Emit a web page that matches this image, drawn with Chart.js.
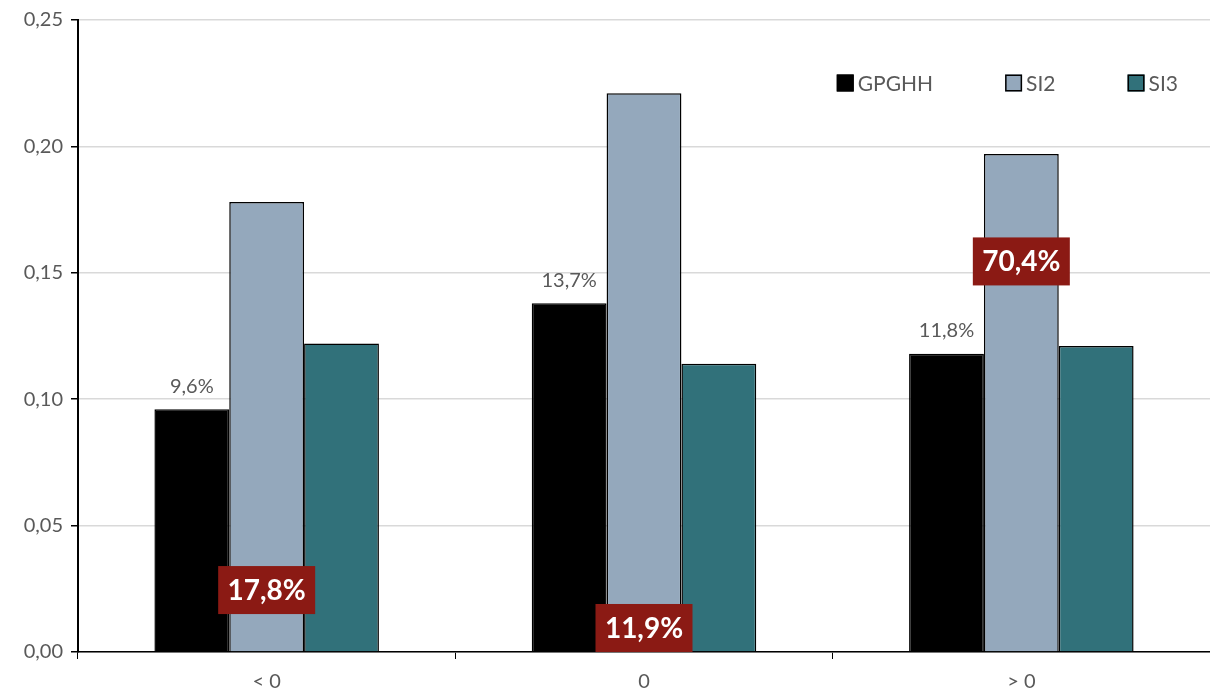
<!DOCTYPE html>
<html>
<head>
<meta charset="utf-8">
<script src="https://cdn.jsdelivr.net/npm/chart.js@4/dist/chart.umd.min.js"></script>
<style>
    html, body { margin: 0; padding: 0; background: #fff; }
    #wrap { width: 1210px; height: 693px; }
</style>
</head>
<body>
<div id="wrap"><canvas id="barChart"></canvas></div>
<script>
const categories = ['< 0', '0', '> 0'];
const seriesNames = ['GPGHH', 'SI2', 'SI3'];
const gpghhValues = [0.096, 0.138, 0.118];
const si2Values = [0.178, 0.221, 0.197];
const si3Values = [0.122, 0.114, 0.121];
const gpghhLabels = ['9,6%', '13,7%', '11,8%'];
const boxLabels = ['17,8%', '11,9%', '70,4%'];
const boxValues = [0.0245, 0.0095, 0.1545];

const FONT = 'Lato, "Open Sans", sans-serif';
const GREY = '#595959';

// small grey labels above the GPGHH bars
const gpghhLabelPlugin = {
    id: 'gpghhLabel',
    afterDatasetsDraw(chart) {
        const ctx = chart.ctx;
        const meta = chart.getDatasetMeta(0);
        ctx.save();
        ctx.font = '20px ' + FONT;
        ctx.fillStyle = GREY;
        ctx.textAlign = 'center';
        ctx.textBaseline = 'bottom';
        meta.data.forEach((bar, i) => {
            ctx.fillText(gpghhLabels[i], bar.x, bar.y - 13);
        });
        ctx.restore();
    }
};

// dark red boxes with white percentages, centred on the SI2 bars
const boxPlugin = {
    id: 'redBoxes',
    afterDatasetsDraw(chart) {
        const ctx = chart.ctx;
        const yScale = chart.scales.y;
        ctx.save();
        ctx.font = 'bold 28px ' + FONT;
        ctx.textAlign = 'center';
        ctx.textBaseline = 'middle';
        boxLabels.forEach((txt, i) => {
            const x = chart.getDatasetMeta(1).data[i].x;
            const y = yScale.getPixelForValue(boxValues[i]);
            const w = 97, h = 48;
            ctx.fillStyle = '#8B1A14';
            ctx.fillRect(x - w / 2, y - h / 2, w, h);
            ctx.fillStyle = '#fff';
            ctx.fillText(txt, x, y + 1);
        });
        ctx.restore();
    }
};

// legend drawn inside the plot, top right
const innerLegendPlugin = {
    id: 'innerLegend',
    afterDraw(chart) {
        const ctx = chart.ctx;
        const area = chart.chartArea;
        const gap = 72, box = 17;
        ctx.save();
        ctx.font = '21px ' + FONT;
        ctx.textBaseline = 'middle';
        const widths = chart.data.datasets.map(ds => box + 4 + ctx.measureText(ds.label).width);
        const total = widths.reduce((a, b) => a + b, 0) + gap * (widths.length - 1);
        let x = area.right - 32 - total;
        const y = 83;
        chart.data.datasets.forEach((ds, i) => {
            ctx.fillStyle = ds.backgroundColor;
            ctx.strokeStyle = '#000';
            ctx.lineWidth = 1.5;
            ctx.fillRect(x, y - box / 2, box, box);
            ctx.strokeRect(x + 0.75, y - box / 2 + 0.75, box - 1.5, box - 1.5);
            ctx.fillStyle = GREY;
            ctx.fillText(ds.label, x + box + 4, y + 1);
            x += widths[i] + gap;
        });
        ctx.restore();
    }
};

const ctx = document.getElementById('barChart').getContext('2d');
new Chart(ctx, {
    type: 'bar',
    data: {
        labels: categories,
        datasets: [
            { label: seriesNames[0], data: gpghhValues, backgroundColor: '#000000' },
            { label: seriesNames[1], data: si2Values, backgroundColor: '#94A8BC' },
            { label: seriesNames[2], data: si3Values, backgroundColor: '#31717A' }
        ]
    },
    options: {
        responsive: true,
        maintainAspectRatio: false,
        animation: false,
        layout: { padding: { top: 20, right: 0, left: 0, bottom: 0 } },
        datasets: {
            bar: {
                borderColor: '#000',
                borderWidth: 1.5,
                barPercentage: 1,
                categoryPercentage: 0.595
            }
        },
        plugins: {
            legend: { display: false },
            tooltip: { enabled: false }
        },
        scales: {
            x: {
                grid: {
                    offset: true,
                    drawOnChartArea: false,
                    tickLength: 7,
                    tickColor: '#000'
                },
                border: { color: '#000', width: 1.5 },
                ticks: {
                    color: GREY,
                    font: { family: FONT, size: 20 },
                    padding: 11
                },
                afterFit(scale) { scale.height = 41; }
            },
            y: {
                min: 0,
                max: 0.25,
                ticks: {
                    stepSize: 0.05,
                    color: GREY,
                    font: { family: FONT, size: 20 },
                    padding: 8,
                    callback: v => v.toFixed(2).replace('.', ',')
                },
                grid: {
                    color: '#D9D9D9',
                    lineWidth: 1.5,
                    tickLength: 7,
                    tickColor: '#000'
                },
                border: { color: '#000', width: 2 },
                afterFit(scale) { scale.width = 78; }
            }
        }
    },
    plugins: [gpghhLabelPlugin, boxPlugin, innerLegendPlugin]
});
</script>
</body>
</html>
